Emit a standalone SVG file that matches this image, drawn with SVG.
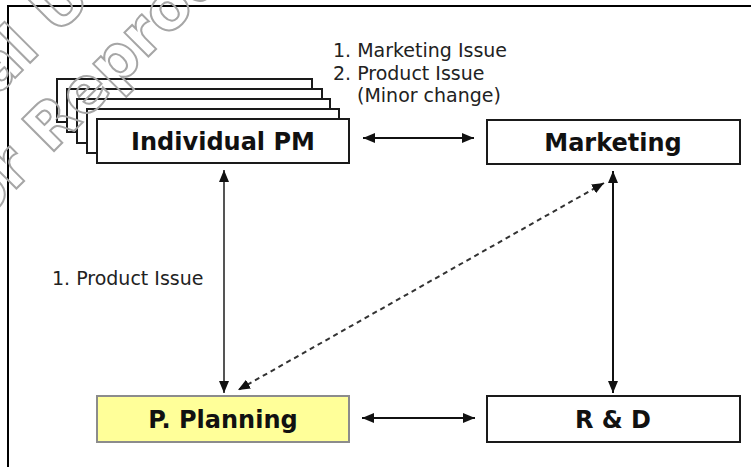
<svg xmlns="http://www.w3.org/2000/svg" width="751" height="467" viewBox="0 0 751 467">
  <style>
    .box { fill: #ffffff; stroke: #1a1a1a; stroke-width: 2; }
    .plan { fill: #ffff99; stroke: #8c8c8c; stroke-width: 2; }
    .title { font-family: "DejaVu Sans", Verdana, sans-serif; font-weight: bold; font-size: 24px; fill: #111111; text-anchor: middle; }
    .label { font-family: "DejaVu Sans", Verdana, sans-serif; font-size: 19px; fill: #222222; }
    .link { fill: none; stroke: #111111; stroke-width: 2; }
    .link-grey { fill: none; stroke: #555555; stroke-width: 2; }
    .dash { fill: none; stroke: #333333; stroke-width: 2; stroke-dasharray: 5 4; }
    .wm { font-family: "DejaVu Sans", Verdana, sans-serif; font-weight: bold; font-size: 62px; fill: none; stroke: #a6a6a6; stroke-width: 2; }
  </style>
  <defs>
    <marker id="ah" viewBox="0 0 12 10" refX="12" refY="5" markerWidth="12" markerHeight="10" markerUnits="userSpaceOnUse" orient="auto-start-reverse">
      <path d="M0,0 L12,5 L0,10 z" fill="#111111"/>
    </marker>
  </defs>

  <rect width="751" height="467" fill="#ffffff"/>

  <!-- page frame (top and left edges) -->
  <path d="M8,467 V6 H751" fill="none" stroke="#000000" stroke-width="2"/>

  <!-- stack of individual PM sheets -->
  <g id="individual-pm">
    <rect class="box" x="57" y="79" width="255" height="43"/>
    <rect class="box" x="67" y="89" width="255" height="43"/>
    <rect class="box" x="77" y="99" width="253" height="44"/>
    <rect class="box" x="87" y="109" width="252" height="44"/>
    <rect class="box" x="97" y="119" width="252" height="44"/>
    <text class="title" x="223" y="150">Individual PM</text>
  </g>

  <g id="marketing">
    <rect class="box" x="487" y="120" width="253" height="44"/>
    <text class="title" x="613" y="151">Marketing</text>
  </g>

  <g id="p-planning">
    <rect class="plan" x="97" y="396" width="252" height="46"/>
    <text class="title" x="223" y="428">P. Planning</text>
  </g>

  <g id="r-and-d">
    <rect class="box" x="487" y="396" width="253" height="46"/>
    <text class="title" x="613" y="428">R &amp; D</text>
  </g>

  <!-- connectors -->
  <g id="connectors">
    <line class="link" x1="363" y1="138" x2="474" y2="138" marker-start="url(#ah)" marker-end="url(#ah)"/>
    <line class="link" x1="362" y1="418" x2="475" y2="418" marker-start="url(#ah)" marker-end="url(#ah)"/>
    <line class="link-grey" x1="224" y1="170" x2="224" y2="393" marker-start="url(#ah)" marker-end="url(#ah)"/>
    <line class="link" x1="613" y1="171" x2="613" y2="393" marker-start="url(#ah)" marker-end="url(#ah)"/>
    <line class="dash" x1="604" y1="183" x2="238" y2="390" marker-start="url(#ah)" marker-end="url(#ah)"/>
  </g>

  <!-- connector labels -->
  <g id="labels">
    <text class="label" x="333" y="57">1. Marketing Issue</text>
    <text class="label" x="333" y="80">2. Product Issue</text>
    <text class="label" x="357" y="102">(Minor change)</text>
    <text class="label" x="52" y="285">1. Product Issue</text>
  </g>

  <!-- outlined watermark across the upper-left corner -->
  <g id="watermark">
    <g transform="translate(57,36) rotate(-45)">
      <text class="wm" x="-22" text-anchor="end">Internal</text>
      <text class="wm" x="0">Use Only</text>
    </g>
    <g transform="translate(50,155) rotate(-45)">
      <text class="wm" x="-22" text-anchor="end">Not for</text>
      <text class="wm" x="0">Reproduction</text>
    </g>
  </g>
</svg>
